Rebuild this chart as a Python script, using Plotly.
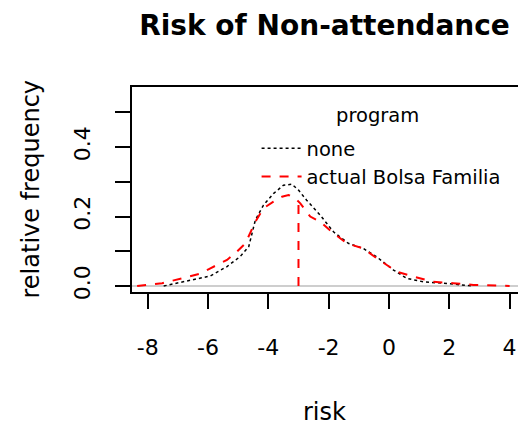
import plotly.graph_objects as go

# --- data ---
none_x = [-7.47, -7.03, -6.48, -5.92, -5.37, -4.93, -4.65, -4.43, -4.16, -3.83, -3.50, -3.22,
          -3.00, -2.73, -2.28, -1.84, -1.35, -0.85, -0.41, 0.15, 0.59, 1.14, 1.80, 2.35, 2.80]
none_y = [0.000, 0.008, 0.017, 0.029, 0.056, 0.085, 0.113, 0.190, 0.233, 0.266, 0.290, 0.293,
          0.276, 0.247, 0.204, 0.156, 0.123, 0.108, 0.084, 0.046, 0.022, 0.012, 0.008, 0.003, 0.000]

bolsa_x = [-8.35, -7.52, -6.86, -6.25, -5.92, -5.37, -5.04, -4.76, -4.43, -4.16, -3.83, -3.55,
           -3.33, -3.11, -2.94, -2.61, -2.28, -1.84, -1.40, -0.85, -0.41, 0.26, 0.81, 1.47,
           2.13, 2.80, 4.00]
bolsa_y = [0.000, 0.008, 0.022, 0.036, 0.051, 0.075, 0.099, 0.123, 0.185, 0.224, 0.243, 0.257,
           0.262, 0.252, 0.238, 0.200, 0.185, 0.152, 0.123, 0.108, 0.080, 0.041, 0.027, 0.012,
           0.008, 0.003, 0.000]

bolsa_mean = -3.0
bolsa_mean_height = 0.242

x_ticks = [-8, -6, -4, -2, 0, 2, 4]
x_ticktext = ["-8", "-6", "-4", "-2", "0", "2", "4"]
y_ticks = [0.0, 0.1, 0.2, 0.3, 0.4, 0.5]
y_ticktext = ["0.0", "", "0.2", "", "0.4", ""]

FONT = "DejaVu Sans"
# the page body adds an 8px margin, so the figure is sized to the visible area
W, H = 518, 417

fig = go.Figure()
fig.add_trace(go.Scatter(x=none_x, y=none_y, mode="lines", name="none",
                         line=dict(color="black", width=1.5, dash="dot")))
fig.add_trace(go.Scatter(x=bolsa_x, y=bolsa_y, mode="lines", name="actual Bolsa Familia",
                         line=dict(color="#ff0000", width=2, dash="dash")))
fig.add_trace(go.Scatter(x=[bolsa_mean, bolsa_mean], y=[0, bolsa_mean_height], mode="lines",
                         showlegend=False, line=dict(color="#ff0000", width=2, dash="dash")))

# grey zero reference line
fig.add_hline(y=0, line=dict(color="#bebebe", width=1.5), layer="below")

fig.update_layout(
    width=W, height=H,
    margin=dict(l=124, r=1, t=79, b=133, autoexpand=False),
    paper_bgcolor="white", plot_bgcolor="white",
    font=dict(family=FONT, color="black"),
    showlegend=True,
    title=dict(text="<b>Risk of Non-attendance</b>", font=dict(family=FONT, size=28, color="black"),
               x=316.5 / W, xref="container", xanchor="center",
               y=1 - 17 / H, yref="container", yanchor="middle"),
    legend=dict(x=0.317, y=0.795, xanchor="left", yanchor="top",
                bgcolor="rgba(0,0,0,0)", borderwidth=0, itemwidth=40,
                font=dict(family=FONT, size=19.5, color="black"),
                tracegroupgap=0),
)

fig.update_xaxes(range=[-8.52, 4.51], tickvals=x_ticks, ticktext=x_ticktext, automargin=False,
                 showgrid=False, zeroline=False, showline=True, mirror=True,
                 linecolor="black", linewidth=2, ticks="outside", ticklen=15, tickwidth=2,
                 tickcolor="black", tickfont=dict(family=FONT, size=22, color="black"),
                 ticklabelstandoff=20)
fig.update_yaxes(range=[-0.0173, 0.573], tickvals=y_ticks, ticktext=y_ticktext, automargin=False,
                 showgrid=False, zeroline=False, showline=True, mirror=True,
                 linecolor="black", linewidth=2, ticks="outside", ticklen=15, tickwidth=2,
                 tickcolor="black", tickangle=-90,
                 tickfont=dict(family=FONT, size=22, color="black"),
                 ticklabelstandoff=16)

fig.add_annotation(text="program", xref="paper", yref="paper", x=246 / 393.3, y=1,
                   yshift=-28, xanchor="center", yanchor="middle", showarrow=False,
                   font=dict(family=FONT, size=19.5, color="black"))
fig.add_annotation(text="risk", xref="paper", yref="paper", x=0.49, y=0,
                   yshift=-120, xanchor="center", yanchor="middle", showarrow=False,
                   font=dict(family=FONT, size=24, color="black"))
fig.add_annotation(text="relative frequency", xref="paper", yref="paper", x=0, y=0.5,
                   xshift=-102, xanchor="center", yanchor="middle", showarrow=False,
                   textangle=-90, font=dict(family=FONT, size=24, color="black"))

fig.write_html("out.html")
